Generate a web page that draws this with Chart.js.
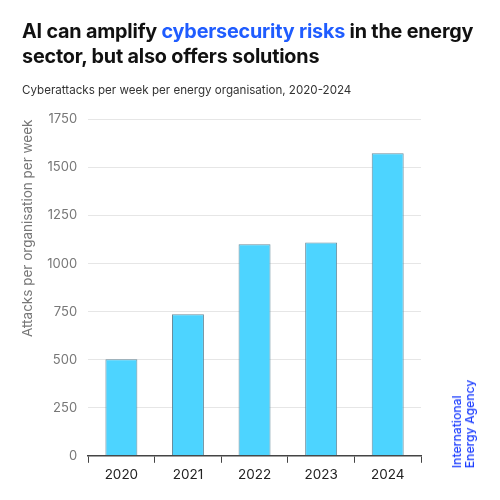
<!DOCTYPE html>
<html>
<head>
<meta charset="utf-8">
<script src="https://cdn.jsdelivr.net/npm/chart.js@4"></script>
<style>
  html, body { margin: 0; padding: 0; background: #fff; }
  #wrap { position: relative; width: 500px; height: 500px; font-family: Inter, "Noto Sans", sans-serif; }
  #chart { position: absolute; left: 0; top: 0; }
  .title { position: absolute; left: 22px; top: 19px; width: 470px; font-size: 19.8px; font-weight: 700; line-height: 25px; color: #111; letter-spacing: -0.2px; }
  .title span { color: #1f5cff; }
  .subtitle { position: absolute; left: 22px; top: 83px; font-size: 11.6px; color: #333; }
  .logo { position: absolute; left: 463px; top: 424px; transform: translate(-50%, -50%) rotate(-90deg); font-size: 12.2px; font-weight: 500; line-height: 13px; color: #1a3cff; white-space: nowrap; }
</style>
</head>
<body>
<div id="wrap">
  <canvas id="chart" width="500" height="500"></canvas>
  <div class="title">AI can amplify <span>cybersecurity risks</span> in the energy sector, but also offers solutions</div>
  <div class="subtitle">Cyberattacks per week per energy organisation, 2020-2024</div>
  <div class="logo">International<br>Energy Agency</div>
</div>
<script>
// Chart data
const years = ['2020', '2021', '2022', '2023', '2024'];
const attacks = [502, 737, 1101, 1110, 1574];
const yTicks = [0, 250, 500, 750, 1000, 1250, 1500, 1750];

const ctx = document.getElementById('chart').getContext('2d');
const chart = new Chart(ctx, {
  type: 'bar',
  data: {
    labels: years,
    datasets: [{
      label: 'Attacks per organisation per week',
      data: attacks,
      backgroundColor: '#4dd4ff',
      borderColor: '#6a8c9c',
      borderWidth: 1,
      barPercentage: 0.48,
      categoryPercentage: 1
    }]
  },
  options: {
    responsive: false,
    animation: false,
    layout: { padding: { top: 119.5, right: 79, bottom: 13, left: 20 } },
    plugins: { legend: { display: false }, tooltip: { enabled: false } },
    scales: {
      x: {
        offset: true,
        grid: { offset: true, drawOnChartArea: false, drawTicks: true, tickLength: 7, color: '#444', tickWidth: 1 },
        border: { display: true, color: '#444', width: 1.5 },
        ticks: { color: '#222', font: { family: 'Inter', size: 13.5 }, padding: 4 }
      },
      y: {
        min: 0,
        max: yTicks[yTicks.length - 1],
        afterBuildTicks: axis => { axis.ticks = yTicks.map(v => ({ value: v })); },
        grid: { color: '#e6e6e6', drawTicks: false },
        border: { display: false },
        ticks: { color: '#777', font: { family: 'Inter', size: 13 }, padding: 11, callback: v => String(v) },
        title: { display: true, align: 'end', text: 'Attacks per organisation per week', color: '#777', font: { family: 'Inter', size: 13.5 }, padding: { top: 0, bottom: 0 } }
      }
    }
  }
});
</script>
</body>
</html>
